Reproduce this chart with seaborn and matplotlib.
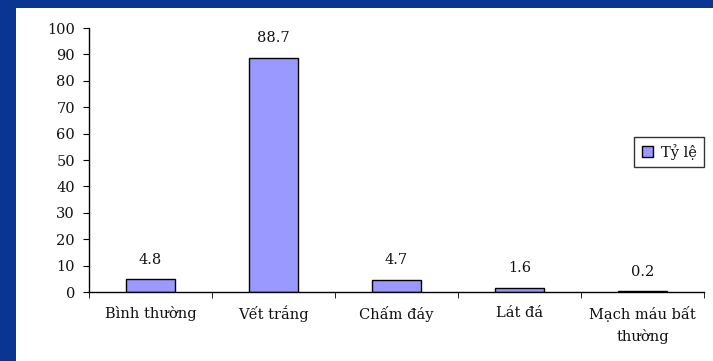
import seaborn as sns
import matplotlib.pyplot as plt
import matplotlib.patches as mpatches
import pandas as pd

categories = ["Bình thường", "Vết trắng", "Chấm đáy", "Lát đá", "Mạch máu bất\nthường"]
values = [4.8, 88.7, 4.7, 1.6, 0.2]
series_name = "Tỷ lệ"

df = pd.DataFrame({"category": categories, "value": values, "series": series_name})

sns.set_style("white")
plt.rcParams["font.family"] = ["DejaVu Serif"]
plt.rcParams["text.color"] = "#111111"
plt.rcParams["xtick.color"] = "#111111"
plt.rcParams["ytick.color"] = "#111111"

fig = plt.figure(figsize=(7.13, 3.61), dpi=100, facecolor="#0b3593")
# white slide panel
fig.patches.append(mpatches.Rectangle((16 / 713, 0), 1, 1 - 8 / 361,
                                      transform=fig.transFigure,
                                      facecolor="white", edgecolor="none", zorder=-1))

ax = fig.add_axes([89 / 713, 1 - 292 / 361, (704 - 89) / 713, (292 - 28) / 361])
ax.set_facecolor("none")

sns.barplot(data=df, x="category", y="value", hue="series", ax=ax,
            palette=["#9999ff"], saturation=1, width=0.4,
            edgecolor="black", linewidth=1)

for c in ax.containers:
    ax.bar_label(c, labels=[f"{v:.1f}" for v in values], padding=9, fontsize=10.5)

ax.set_ylim(0, 100)
ax.set_yticks(range(0, 101, 10))
ax.set_xlim(-0.5, len(categories) - 0.5)
ax.set_xlabel("")
ax.set_ylabel("")

ax.set_xticks([i - 0.5 for i in range(len(categories) + 1)], minor=True)
ax.tick_params(axis="x", which="major", length=0, pad=10, labelsize=10.5)
ax.tick_params(axis="x", which="minor", length=4, direction="out", color="black", bottom=True)
ax.tick_params(axis="y", length=4, direction="out", color="black", left=True, labelsize=10.5, pad=6)
for t in ax.get_xticklabels():
    t.set_linespacing(1.6)

for s in ["top", "right"]:
    ax.spines[s].set_visible(False)
for s in ["left", "bottom"]:
    ax.spines[s].set_color("black")
    ax.spines[s].set_linewidth(1)

leg = ax.legend(loc="center", bbox_to_anchor=(669 / 713, 1 - 152 / 361),
                bbox_transform=fig.transFigure, fontsize=10.5, frameon=True,
                fancybox=False, edgecolor="black", handlelength=0.8,
                handleheight=0.8, handletextpad=0.5, borderpad=0.5)
leg.get_frame().set_linewidth(1)

fig.savefig("out.png", dpi=100, facecolor=fig.get_facecolor())
